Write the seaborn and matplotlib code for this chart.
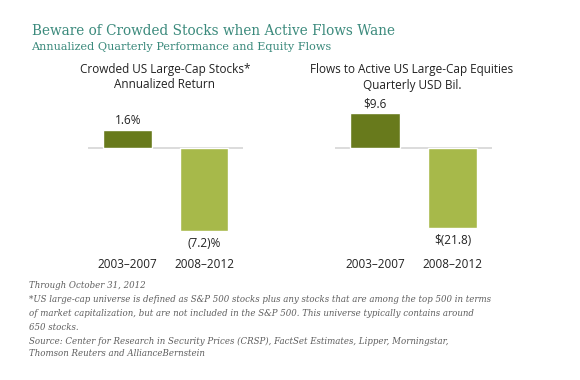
import matplotlib
matplotlib.use("Agg")
import matplotlib.pyplot as plt
import seaborn as sns
import pandas as pd

periods = ["2003\u20132007", "2008\u20132012"]
returns = [1.6, -7.2]
flows = [9.6, -21.8]
return_labels = ["1.6%", "(7.2)%"]
flow_labels = ["$9.6", "$(21.8)"]

DARK = "#687a1c"
LIGHT = "#a7b94a"
TEAL = "#3b8a7c"
GREY = "#5e5e5e"

sns.set_theme(style="white")
plt.rcParams["font.family"] = ["Open Sans", "DejaVu Sans"]

W, H = 580, 380
fig = plt.figure(figsize=(W / 100, H / 100), dpi=100)


def px_axes(x0, x1, y0, y1):
    return fig.add_axes([x0 / W, 1 - y1 / H, (x1 - x0) / W, (y1 - y0) / H])


def panel(ax, values, labels, ylim):
    df = pd.DataFrame({"period": periods, "value": values})
    sns.barplot(data=df, x="period", y="value", hue="period",
                palette=[DARK, LIGHT], width=0.64, ax=ax, legend=False,
                saturation=1)
    ax.set_xlim(-0.52, 1.51)
    ax.set_ylim(*ylim)
    ax.axhline(0, color="#d9d9d9", lw=1.3, zorder=0)
    for s in ax.spines.values():
        s.set_visible(False)
    ax.set_yticks([])
    ax.set_xlabel("")
    ax.set_ylabel("")
    ax.tick_params(axis="x", length=0, pad=13, labelsize=8.5, colors="#222222")
    for i, (v, lab) in enumerate(zip(values, labels)):
        off = 9 if v > 0 else -13
        ax.annotate(lab, (i, v), xytext=(0, off * 0.72), textcoords="offset points",
                    ha="center", va="center", fontsize=8.5, color="#222222",
                    annotation_clip=False)


ax1 = px_axes(88, 243, 100, 240)
panel(ax1, returns, return_labels, (-8.0, 4.17))
ax2 = px_axes(335, 492, 100, 240)
panel(ax2, flows, flow_labels, (-25.2, 13.15))

# panel titles
fig.text(165 / W, 1 - 70 / H, "Crowded US Large-Cap Stocks*", ha="center", va="center",
         fontsize=8.5, color="#222222")
fig.text(165 / W, 1 - 85 / H, "Annualized Return", ha="center", va="center",
         fontsize=8.5, color="#222222")
fig.text(412 / W, 1 - 70 / H, "Flows to Active US Large-Cap Equities", ha="center",
         va="center", fontsize=8.5, color="#222222")
fig.text(412 / W, 1 - 85 / H, "Quarterly USD Bil.", ha="center", va="center",
         fontsize=8.5, color="#222222")

# heading
fig.text(32 / W, 1 - 31 / H, "Beware of Crowded Stocks when Active Flows Wane",
         family="DejaVu Serif", fontsize=9.8, color=TEAL, va="center")
fig.text(31 / W, 1 - 47 / H, "Annualized Quarterly Performance and Equity Flows",
         family="DejaVu Serif", fontsize=8.1, color=TEAL, va="center")

notes = [
    "Through October 31, 2012",
    "*US large-cap universe is defined as S&P 500 stocks plus any stocks that are among the top 500 in terms",
    "of market capitalization, but are not included in the S&P 500. This universe typically contains around",
    "650 stocks.",
    "Source: Center for Research in Security Prices (CRSP), FactSet Estimates, Lipper, Morningstar,",
    "Thomson Reuters and AllianceBernstein",
]
note_y = [285, 299, 313, 327, 341, 354]
for t, y in zip(notes, note_y):
    fig.text(29 / W, 1 - y / H, t, family="DejaVu Serif", style="italic",
             fontsize=6.2, color=GREY, va="center")

fig.savefig("out.png", dpi=100)
